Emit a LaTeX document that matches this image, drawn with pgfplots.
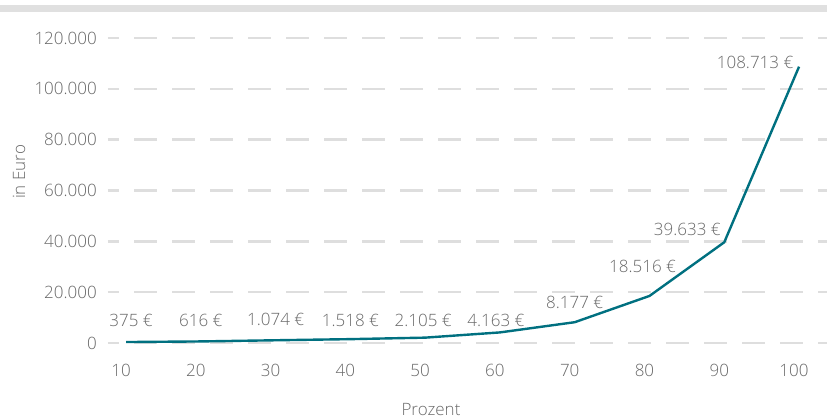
\documentclass[border=0pt]{standalone}
\usepackage{fontspec}
\setmainfont{Open Sans}[UprightFont=* Light]
\usepackage{pgfplots}
\pgfplotsset{compat=1.18}
\usepackage{pgfplotstable}
\definecolor{teal1}{RGB}{0,112,128}
\definecolor{gridgray}{RGB}{222,222,222}
\definecolor{txt}{RGB}{105,105,105}
\definecolor{barg}{RGB}{224,224,224}

\pgfplotstableread{
x y lab dx dy
10 375 375 5 16
20 616 616 0 15.4
30 1074 1.074 0 14.3
40 1518 1.518 0 13.1
50 2105 2.105 -2 11.6
60 4163 4.163 -4 6.4
70 8177 8.177 0 14.2
80 18516 18.516 -7 23.2
90 39633 39.633 -37 6.3
100 108713 108.713 -44 -2.3
}\datatable

\begin{document}
\begin{tikzpicture}[font=\fontsize{17}{20}\selectfont, text=txt]
\fill[barg] (-108pt,331pt) rectangle (719pt,338pt);
\useasboundingbox (-108pt,-76pt) rectangle (719pt,343pt);
\begin{axis}[
  scale only axis, width=719pt, height=305pt,
  xmin=7.59, xmax=103.74, ymin=0, ymax=120000,
  axis line style={draw=none}, major tick length=0pt,
  xtick={10,20,...,100}, ytick={0,20000,...,120000},
  scaled y ticks=false,
  /pgf/number format/assume math mode=true,
  yticklabel style={/pgf/number format/fixed, /pgf/number format/1000 sep={.}, anchor=east, inner sep=0pt, xshift=-11pt, text=txt},
  xticklabel style={anchor=base, inner sep=0pt, yshift=-34pt, xshift=-5pt, text=txt},
  ymajorgrids,
  major grid style={gridgray, line width=2.5pt, dash pattern=on 23pt off 15pt, dash phase=11.7pt},
  xlabel={Prozent},
  xlabel style={at={(rel axis cs:0.4492,-0.2380)}, anchor=base, inner sep=0pt, text=txt},
  ylabel={in Euro},
  ylabel style={at={(rel axis cs:-0.1154,0.5607)}, anchor=base, inner sep=0pt, text=txt},
  clip=false,
]
\addplot[teal1, line width=2.4pt, mark=none,
  nodes near coords={\pgfplotspointmeta~€},
  point meta=explicit symbolic,
  visualization depends on={\thisrow{dx}\as\dx},
  visualization depends on={\thisrow{dy}\as\dy},
  every node near coord/.append style={anchor=base, inner sep=0pt, xshift={\dx pt}, yshift={\dy pt}, text=txt, font=\fontsize{17}{20}\selectfont}]
  table[x=x, y=y, meta=lab]{\datatable};
\end{axis}
\end{tikzpicture}
\end{document}
